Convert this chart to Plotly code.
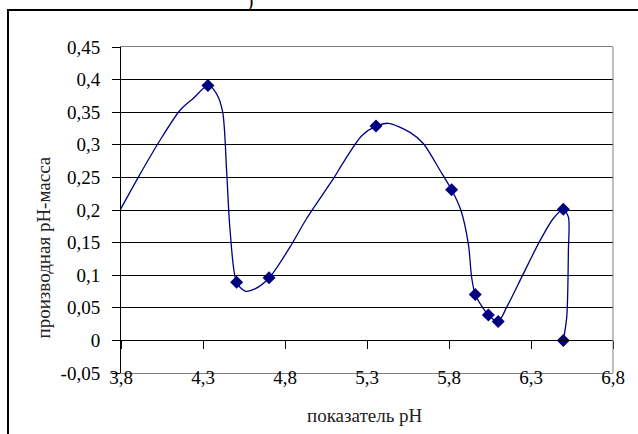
import plotly.graph_objects as go

# measured points (markers)
ph = [4.33, 4.505, 4.703, 5.355, 5.816, 5.96, 6.04, 6.10, 6.497, 6.497]
deriv = [0.391, 0.089, 0.096, 0.329, 0.231, 0.0705, 0.039, 0.029, 0.201, 0.0]

# smoothed curve
curve_x = [3.76, 3.906, 4.038, 4.16, 4.24, 4.332, 4.383, 4.42, 4.444, 4.465, 4.505, 4.556,
           4.617, 4.704, 4.83, 4.932, 5.095, 5.156, 5.268, 5.359, 5.43, 5.562, 5.643, 5.745,
           5.816, 5.872, 5.918, 5.938, 5.96, 6.04, 6.10, 6.152, 6.253, 6.355, 6.436, 6.497,
           6.528, 6.528, 6.518, 6.497]
curve_y = [0.184, 0.2505, 0.307, 0.353, 0.371, 0.391, 0.378, 0.35, 0.26, 0.169, 0.089, 0.0757,
           0.079, 0.096, 0.143, 0.187, 0.248, 0.273, 0.314, 0.329, 0.333, 0.319, 0.302, 0.261,
           0.231, 0.2, 0.148, 0.097, 0.0705, 0.039, 0.029, 0.051, 0.102, 0.153, 0.187, 0.201,
           0.189, 0.138, 0.036, 0.0]

x_ticks = [3.8, 4.3, 4.8, 5.3, 5.8, 6.3, 6.8]
y_ticks = [-0.05, 0, 0.05, 0.1, 0.15, 0.2, 0.25, 0.3, 0.35, 0.4, 0.45]

navy = "#000080"
font = "'Times New Roman', 'Liberation Serif', 'DejaVu Serif', serif"

fig = go.Figure()
fig.add_trace(go.Scatter(x=curve_x, y=curve_y, mode="lines",
                         line=dict(color=navy, width=1.3, shape="spline", smoothing=0.8),
                         hoverinfo="skip", showlegend=False))
fig.add_trace(go.Scatter(x=ph, y=deriv, mode="markers",
                         marker=dict(symbol="diamond", size=10, color=navy),
                         showlegend=False))
# invisible trace for the crossing x-axis at y=0
fig.add_trace(go.Scatter(x=[x_ticks[0]], y=[0], xaxis="x2", mode="markers",
                         marker=dict(opacity=0), hoverinfo="skip", showlegend=False))

fig.update_layout(
    width=638, height=434,
    margin=dict(l=121, r=25, t=47, b=61),
    paper_bgcolor="white", plot_bgcolor="white",
    separators=", ",
    font=dict(family=font, size=19, color="black"),
    xaxis=dict(range=[3.8, 6.8], tickvals=x_ticks, ticktext=[f"{v:.1f}".replace(".", ",") for v in x_ticks],
               showgrid=False, zeroline=False, showline=True, linecolor="#808080", linewidth=1,
               mirror=True, ticks="", ticklabelstandoff=-13,
               tickfont=dict(family=font, size=19, color="black")),
    xaxis2=dict(range=[3.8, 6.8], tickvals=x_ticks, overlaying="x", anchor="free", position=0.1,
                showgrid=False, zeroline=False, showline=True, linecolor="black", linewidth=1,
                ticks="outside", ticklen=8, tickcolor="black", showticklabels=False),
    yaxis=dict(range=[-0.05, 0.45], tickvals=y_ticks,
               ticktext=[("0" if v == 0 else f"{v:g}".replace(".", ",")) for v in y_ticks],
               showgrid=True, gridcolor="black", gridwidth=1, zeroline=False,
               showline=True, linecolor="black", linewidth=1,
               ticks="outside", ticklen=8, tickcolor="black", ticklabelstandoff=8,
               tickfont=dict(family=font, size=19, color="black")),
    shapes=[
        dict(type="line", xref="paper", yref="paper", x0=1, x1=1, y0=0, y1=1,
             line=dict(color="#808080", width=1)),
        dict(type="rect", xref="paper", yref="paper", x0=-0.2297, x1=1.06, y0=-0.21, y1=1.1135,
             line=dict(color="black", width=2), layer="below"),
    ],
    annotations=[
        dict(text="показатель pH", xref="paper", yref="paper", x=0.496, y=-0.129,
             showarrow=False, xanchor="center", yanchor="middle",
             font=dict(family=font, size=19, color="#222222")),
        dict(text="производная pH-масса", xref="paper", yref="paper", x=-0.1585, y=0.385,
             showarrow=False, textangle=-90, xanchor="center", yanchor="middle",
             font=dict(family=font, size=19, color="#222222")),
        dict(text=")", xref="paper", yref="paper", x=(250 - 121) / 492, y=1 + 47 / 326,
             showarrow=False, xanchor="center", yanchor="bottom", yshift=-14,
             font=dict(family=font, size=19)),
    ],
)

fig.write_html("out.html")
